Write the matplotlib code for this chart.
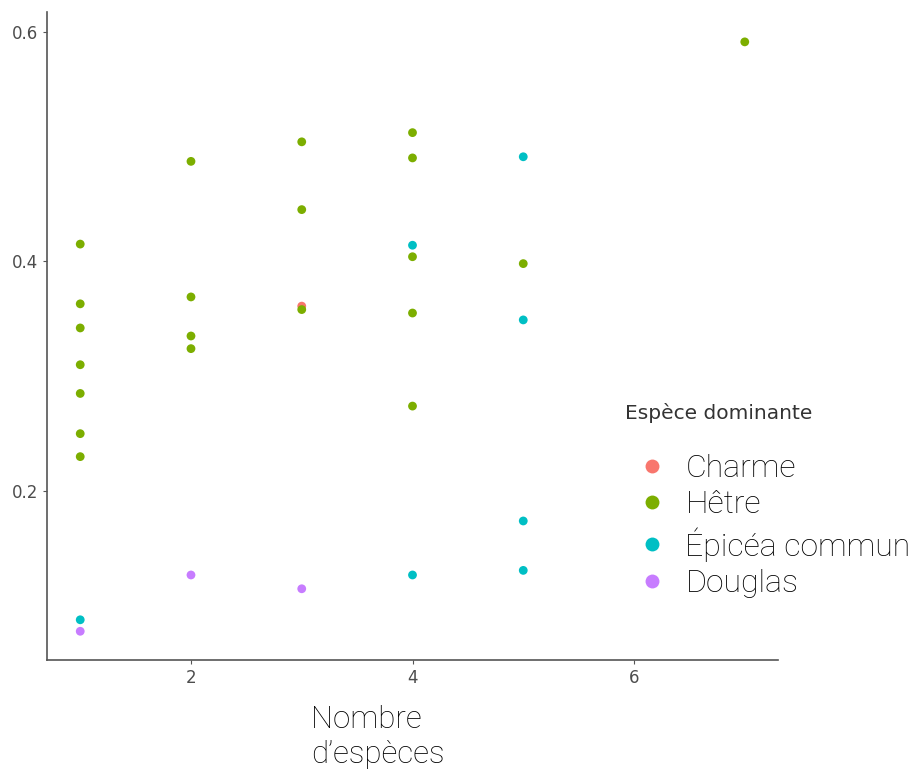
import matplotlib
matplotlib.use("Agg")
import matplotlib.pyplot as plt

# Données
especes = ["Charme", "Hêtre", "Épicéa commun", "Douglas"]
couleurs = ["#F8766D", "#7CAE00", "#00BFC4", "#C77CFF"]

charme_x = [3]
charme_y = [0.361]

hetre_x = [1, 1, 1, 1, 1, 1, 1,
           2, 2, 2, 2,
           3, 3, 3,
           4, 4, 4, 4, 4,
           5,
           7]
hetre_y = [0.415, 0.363, 0.342, 0.310, 0.285, 0.250, 0.230,
           0.487, 0.369, 0.335, 0.324,
           0.504, 0.445, 0.358,
           0.512, 0.490, 0.404, 0.355, 0.274,
           0.398,
           0.591]

epicea_x = [1, 4, 4, 5, 5, 5, 5]
epicea_y = [0.088, 0.414, 0.127, 0.491, 0.349, 0.174, 0.131]

douglas_x = [1, 2, 3]
douglas_y = [0.078, 0.127, 0.115]

series = [(charme_x, charme_y), (hetre_x, hetre_y), (epicea_x, epicea_y), (douglas_x, douglas_y)]

fig = plt.figure(figsize=(9.17, 7.72), dpi=100)
ax = fig.add_axes([47/917, 1 - 660/772, (778 - 47)/917, (660 - 12)/772])

handles = []
for (xs, ys), nom, c in zip(series, especes, couleurs):
    ax.scatter(xs, ys, s=40, color=c, edgecolors="none", zorder=3)
    handles.append(plt.Line2D([], [], marker="o", linestyle="none", markersize=10,
                              markerfacecolor=c, markeredgecolor="none", label=nom))

ax.set_xlim(0.70, 7.30)
ax.set_ylim(0.053, 0.617)
ax.set_xticks([2, 4, 6])
ax.set_yticks([0.2, 0.4, 0.6])
ax.set_xticklabels(["2", "4", "6"])
ax.set_yticklabels(["0.2", "0.4", "0.6"])

for s in ["top", "right"]:
    ax.spines[s].set_visible(False)
for s in ["left", "bottom"]:
    ax.spines[s].set_color("#555555")
    ax.spines[s].set_linewidth(1.2)
ax.tick_params(colors="#555555", labelcolor="#4d4d4d", labelsize=12, length=3, width=0.8)

# Titre d'axe
fig.text(311/917, 1 - 737/772, "Nombre\nd’espèces", ha="left", va="center",
         fontsize=22.5, family="Roboto", fontweight="light", linespacing=1.22)

# Légende
fig.text(625/917, 1 - 413/772, "Espèce dominante", ha="left", va="center",
         fontsize=14.5, color="#333333")
leg = fig.legend(handles=handles, loc="upper left", bbox_to_anchor=(620/917, 1 - 441/772),
                 frameon=False, prop={"family": "Roboto", "weight": "light", "size": 23},
                 handletextpad=0.45, labelspacing=0.24, handlelength=1.2, borderaxespad=0)

fig.savefig("out.png", dpi=100)
